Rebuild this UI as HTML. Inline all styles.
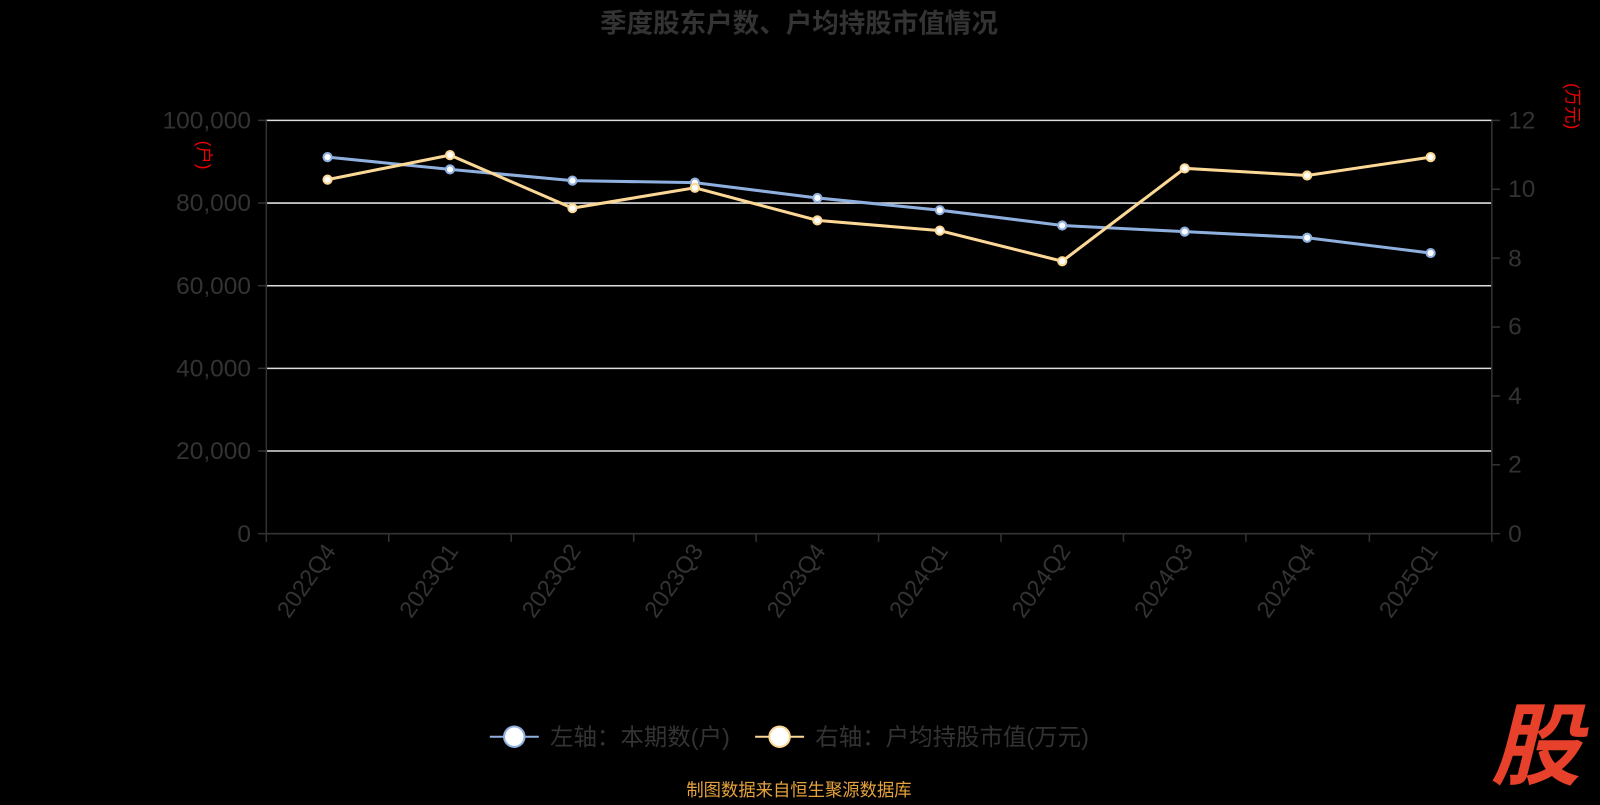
<!DOCTYPE html>
<html><head><meta charset="utf-8"><style>
body{margin:0;background:#000;width:1600px;height:800px;overflow:hidden;font-family:"Liberation Sans","Noto Sans CJK SC",sans-serif}
</style></head><body>
<svg width="1600" height="800" viewBox="0 0 1568 784" xmlns="http://www.w3.org/2000/svg" font-family="Liberation Sans, Noto Sans CJK SC, sans-serif">
<text x="783" y="32" text-anchor="middle" font-size="26" font-weight="bold" fill="#333">季度股东户数、户均持股市值情况</text>
<g stroke="#ddd" stroke-width="1.5">
<line x1="261" x2="1462" y1="118" y2="118"/><line x1="261" x2="1462" y1="199" y2="199"/>
<line x1="261" x2="1462" y1="280" y2="280"/><line x1="261" x2="1462" y1="361" y2="361"/>
<line x1="261" x2="1462" y1="442" y2="442"/>
</g>
<g stroke="#333" stroke-width="1.5">
<line x1="261" y1="118" x2="261" y2="523"/><line x1="1462" y1="118" x2="1462" y2="523"/>
<line x1="261" y1="523" x2="1462" y2="523"/>
<line x1="253" x2="261" y1="118" y2="118"/><line x1="253" x2="261" y1="199" y2="199"/><line x1="253" x2="261" y1="280" y2="280"/><line x1="253" x2="261" y1="361" y2="361"/><line x1="253" x2="261" y1="442" y2="442"/><line x1="253" x2="261" y1="523" y2="523"/>
<line x1="1462" x2="1470" y1="118" y2="118"/><line x1="1462" x2="1470" y1="185.5" y2="185.5"/><line x1="1462" x2="1470" y1="253" y2="253"/><line x1="1462" x2="1470" y1="320.5" y2="320.5"/><line x1="1462" x2="1470" y1="388" y2="388"/><line x1="1462" x2="1470" y1="455.5" y2="455.5"/><line x1="1462" x2="1470" y1="523" y2="523"/>
<line x1="261" x2="261" y1="523" y2="531"/><line x1="381" x2="381" y1="523" y2="531"/><line x1="501" x2="501" y1="523" y2="531"/><line x1="621" x2="621" y1="523" y2="531"/><line x1="741" x2="741" y1="523" y2="531"/><line x1="861" x2="861" y1="523" y2="531"/><line x1="981" x2="981" y1="523" y2="531"/><line x1="1101" x2="1101" y1="523" y2="531"/><line x1="1221" x2="1221" y1="523" y2="531"/><line x1="1342" x2="1342" y1="523" y2="531"/><line x1="1462" x2="1462" y1="523" y2="531"/>
</g>
<g fill="#333" font-size="24" text-anchor="end">
<text x="246" y="126">100,000</text><text x="246" y="207">80,000</text><text x="246" y="288">60,000</text><text x="246" y="369">40,000</text><text x="246" y="450">20,000</text><text x="246" y="531">0</text>
</g>
<g fill="#333" font-size="24">
<text x="1478" y="126">12</text><text x="1478" y="193">10</text><text x="1478" y="261">8</text><text x="1478" y="328">6</text><text x="1478" y="396">4</text><text x="1478" y="463">2</text><text x="1478" y="531">0</text>
</g>
<g fill="#333" font-size="23" text-anchor="end">
<text transform="translate(330,540) rotate(-55)">2022Q4</text>
<text transform="translate(450,540) rotate(-55)">2023Q1</text>
<text transform="translate(570,540) rotate(-55)">2023Q2</text>
<text transform="translate(690,540) rotate(-55)">2023Q3</text>
<text transform="translate(810,540) rotate(-55)">2023Q4</text>
<text transform="translate(930,540) rotate(-55)">2024Q1</text>
<text transform="translate(1050,540) rotate(-55)">2024Q2</text>
<text transform="translate(1170,540) rotate(-55)">2024Q3</text>
<text transform="translate(1290,540) rotate(-55)">2024Q4</text>
<text transform="translate(1410,540) rotate(-55)">2025Q1</text>
</g>
<text transform="translate(194,152) rotate(90)" fill="#e00" font-size="17" text-anchor="middle">(户)</text>
<text transform="translate(1535,104) rotate(90)" fill="#e00" font-size="17" text-anchor="middle">(万元)</text>
<polyline fill="none" stroke="#8fb0de" stroke-width="3" points="321,154 441,166 561,177 681,179 801,194 921,206 1041,221 1161,227 1281,233 1402,248"/>
<polyline fill="none" stroke="#fbd896" stroke-width="3" points="321,176 441,152 561,204 681,184 801,216 921,226 1041,256 1161,165 1281,172 1402,154"/>
<g fill="#fff" stroke="#8fb0de" stroke-width="2">
<circle cx="321" cy="154" r="4"/><circle cx="441" cy="166" r="4"/><circle cx="561" cy="177" r="4"/><circle cx="681" cy="179" r="4"/><circle cx="801" cy="194" r="4"/><circle cx="921" cy="206" r="4"/><circle cx="1041" cy="221" r="4"/><circle cx="1161" cy="227" r="4"/><circle cx="1281" cy="233" r="4"/><circle cx="1402" cy="248" r="4"/>
</g>
<g fill="#fff" stroke="#fbd896" stroke-width="2">
<circle cx="321" cy="176" r="4"/><circle cx="441" cy="152" r="4"/><circle cx="561" cy="204" r="4"/><circle cx="681" cy="184" r="4"/><circle cx="801" cy="216" r="4"/><circle cx="921" cy="226" r="4"/><circle cx="1041" cy="256" r="4"/><circle cx="1161" cy="165" r="4"/><circle cx="1281" cy="172" r="4"/><circle cx="1402" cy="154" r="4"/>
</g>
<line x1="480" x2="528" y1="722" y2="722" stroke="#8fb0de" stroke-width="2"/>
<circle cx="504" cy="722" r="10" fill="#fff" stroke="#8fb0de" stroke-width="2"/>
<text x="539" y="730" font-size="23" fill="#333">左轴：本期数(户)</text>
<line x1="740" x2="788" y1="722" y2="722" stroke="#fbd896" stroke-width="2"/>
<circle cx="764" cy="722" r="10" fill="#fff" stroke="#fbd896" stroke-width="2"/>
<text x="799" y="730" font-size="23" fill="#333">右轴：户均持股市值(万元)</text>
<text x="783" y="780" text-anchor="middle" font-size="17" fill="#e6a23c">制图数据来自恒生聚源数据库</text>
<text x="1505" y="762" text-anchor="middle" font-size="88" font-weight="bold" font-style="italic" fill="#e8412b">股</text>
</svg>
</body></html>
